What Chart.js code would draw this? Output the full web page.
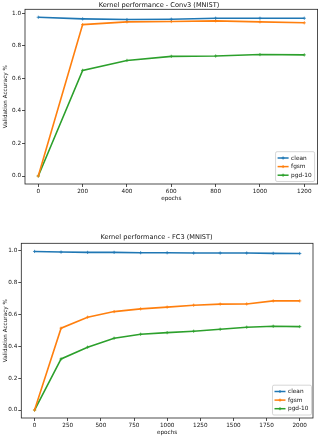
<!DOCTYPE html>
<html><head><meta charset="utf-8">
<script src="https://cdn.jsdelivr.net/npm/chart.js@4.4.0/dist/chart.umd.min.js"></script>
<style>
html,body{margin:0;padding:0;background:#fff;width:320px;height:436px;overflow:hidden}
.c{position:absolute;left:0;width:320px}
</style></head><body>
<div class="c" style="top:0;height:206px"><canvas id="c1"></canvas></div>
<div class="c" style="top:206px;height:230px"><canvas id="c2"></canvas></div>
<script>
// ---- Data: Conv3 (MNIST)
const conv3Epochs = [0, 200, 400, 600, 800, 1000, 1200];
const conv3Clean  = [0.975, 0.965, 0.961, 0.963, 0.969, 0.969, 0.969];
const conv3Fgsm   = [0.0, 0.930, 0.947, 0.949, 0.953, 0.947, 0.941];
const conv3Pgd    = [0.0, 0.649, 0.710, 0.735, 0.737, 0.746, 0.744];
const conv3XTicks = [0, 200, 400, 600, 800, 1000, 1200];

// ---- Data: FC3 (MNIST)
const fc3Epochs = [0, 200, 400, 600, 800, 1000, 1200, 1400, 1600, 1800, 2000];
const fc3Clean  = [0.994, 0.990, 0.988, 0.988, 0.986, 0.986, 0.984, 0.984, 0.984, 0.982, 0.981];
const fc3Fgsm   = [0.0, 0.513, 0.582, 0.617, 0.634, 0.645, 0.657, 0.664, 0.665, 0.684, 0.684];
const fc3Pgd    = [0.0, 0.320, 0.394, 0.450, 0.475, 0.485, 0.494, 0.506, 0.519, 0.525, 0.523];
const fc3XTicks = [0, 250, 500, 750, 1000, 1250, 1500, 1750, 2000];

const yTicks = [0.0, 0.2, 0.4, 0.6, 0.8, 1.0];
const seriesNames = ['clean', 'fgsm', 'pgd-10'];
const seriesColors = ['#1f77b4', '#ff7f0e', '#2ca02c'];
const titles = ['Kernel performance - Conv3 (MNIST)', 'Kernel performance - FC3 (MNIST)'];
const xLabel = 'epochs';
const yLabel = 'Validation Accuracy %';

const FONT = "'DejaVu Sans', sans-serif";

const framePlugin = {
  id: 'frame',
  afterDraw(chart) {
    const a = chart.chartArea, ctx = chart.ctx;
    ctx.save();
    ctx.strokeStyle = '#222';
    ctx.lineWidth = 0.8;
    ctx.strokeRect(a.left, a.top, a.right - a.left, a.bottom - a.top);
    ctx.restore();
  }
};

const legendPlugin = {
  id: 'innerLegend',
  afterDraw(chart, args, opts) {
    const ctx = chart.ctx, a = chart.chartArea;
    ctx.save();
    ctx.font = '5.8px ' + FONT;
    const sets = chart.data.datasets;
    let tw = 0;
    sets.forEach(d => tw = Math.max(tw, ctx.measureText(d.label).width));
    const rowH = opts.rowH, padX = 2, lineW = 11, gap = 2.5;
    const w = padX + lineW + gap + tw + padX + 1;
    const h = rowH * sets.length + 4;
    const x = a.right - opts.right - w, y = a.bottom - opts.bottom - h;
    ctx.fillStyle = 'rgba(255,255,255,0.85)';
    ctx.strokeStyle = '#cccccc';
    ctx.lineWidth = 0.8;
    ctx.beginPath();
    ctx.roundRect(x, y, w, h, 1.5);
    ctx.fill(); ctx.stroke();
    sets.forEach((d, i) => {
      const cy = y + 2 + rowH * (i + 0.5);
      ctx.strokeStyle = d.borderColor;
      ctx.lineWidth = 1.5;
      ctx.beginPath();
      ctx.moveTo(x + padX, cy); ctx.lineTo(x + padX + lineW, cy);
      ctx.stroke();
      ctx.lineWidth = 1;
      ctx.beginPath();
      const mx = x + padX + lineW / 2;
      ctx.moveTo(mx - 1.5, cy); ctx.lineTo(mx + 1.5, cy);
      ctx.moveTo(mx, cy - 1.5); ctx.lineTo(mx, cy + 1.5);
      ctx.stroke();
      ctx.fillStyle = '#111';
      ctx.textBaseline = 'middle';
      ctx.textAlign = 'left';
      ctx.fillText(d.label, x + padX + lineW + gap, cy);
    });
    ctx.restore();
  }
};

function makeChart(id, cfg) {
  const H = cfg.H;
  const tFont = 6.6, tLH = tFont * 1.2;
  const aFont = 5.7, aLH = aFont * 1.2;
  const datasets = cfg.series.map((vals, i) => ({
    label: seriesNames[i],
    data: cfg.epochs.map((e, j) => ({x: e, y: vals[j]})),
    borderColor: seriesColors[i],
    backgroundColor: seriesColors[i],
    borderWidth: 1.6,
    pointStyle: 'cross',
    pointRadius: 1.6,
    pointBorderWidth: 0.8,
    pointHoverRadius: 1.6,
    tension: 0,
    fill: false
  }));
  return new Chart(document.getElementById(id), {
    type: 'line',
    data: { datasets },
    options: {
      responsive: true,
      maintainAspectRatio: false,
      animation: false,
      events: [],
      layout: { padding: { left: 0, right: 320 - cfg.area.right, top: 0, bottom: 0 } },
      plugins: {
        legend: { display: false },
        tooltip: { enabled: false },
        title: {
          display: true,
          text: cfg.title,
          color: '#111',
          font: { family: FONT, size: tFont, weight: 'normal', lineHeight: 1.2 },
          padding: { top: cfg.titleY - tLH / 2, bottom: cfg.area.top - cfg.titleY - tLH / 2 }
        },
        innerLegend: cfg.legend
      },
      scales: {
        x: {
          type: 'linear',
          min: cfg.xMin, max: cfg.xMax,
          afterFit: s => { s.height = H - cfg.area.bottom; },
          afterBuildTicks: s => { s.ticks = cfg.xTicks.map(v => ({ value: v })); },
          grid: { display: true, drawOnChartArea: false, drawTicks: true, tickLength: 3, tickColor: '#222', tickWidth: 0.8 },
          border: { display: false },
          ticks: { color: '#111', font: { family: FONT, size: aFont }, padding: 1.5, maxRotation: 0, autoSkip: false,
                   callback: v => String(v) },
          title: { display: true, text: xLabel, color: '#111', font: { family: FONT, size: aFont, lineHeight: 1.2 },
                   padding: { top: 0, bottom: Math.max(0, H - aLH / 2 - cfg.xTitleY) } }
        },
        y: {
          type: 'linear',
          min: cfg.yMin, max: cfg.yMax,
          afterFit: s => { s.width = cfg.area.left; },
          afterBuildTicks: s => { s.ticks = yTicks.map(v => ({ value: v })); },
          grid: { display: true, drawOnChartArea: false, drawTicks: true, tickLength: 3, tickColor: '#222', tickWidth: 0.8 },
          border: { display: false },
          ticks: { color: '#111', font: { family: FONT, size: aFont }, padding: 1, autoSkip: false,
                   callback: v => v.toFixed(1) },
          title: { display: true, text: yLabel, color: '#111', font: { family: FONT, size: aFont, lineHeight: 1.2 },
                   padding: { top: 6 - aLH / 2, bottom: 0 } }
        }
      }
    },
    plugins: [framePlugin, legendPlugin]
  });
}

makeChart('c1', {
  H: 206,
  epochs: conv3Epochs,
  series: [conv3Clean, conv3Fgsm, conv3Pgd],
  xTicks: conv3XTicks,
  xMin: -60, xMax: 1260, yMin: -0.049, yMax: 1.024,
  area: { left: 25, right: 318, top: 9.3, bottom: 184 },
  titleY: 5, xTitleY: 199,
  title: titles[0],
  legend: { right: 3, bottom: 2.5, rowH: 8.6 }
});
makeChart('c2', {
  H: 230,
  epochs: fc3Epochs,
  series: [fc3Clean, fc3Fgsm, fc3Pgd],
  xTicks: fc3XTicks,
  xMin: -100, xMax: 2100, yMin: -0.05, yMax: 1.045,
  area: { left: 21.3, right: 313, top: 37.3, bottom: 212 },
  titleY: 31.7, xTitleY: 227,
  title: titles[1],
  legend: { right: 1.5, bottom: 3, rowH: 8.6 }
});
</script>
</body></html>
